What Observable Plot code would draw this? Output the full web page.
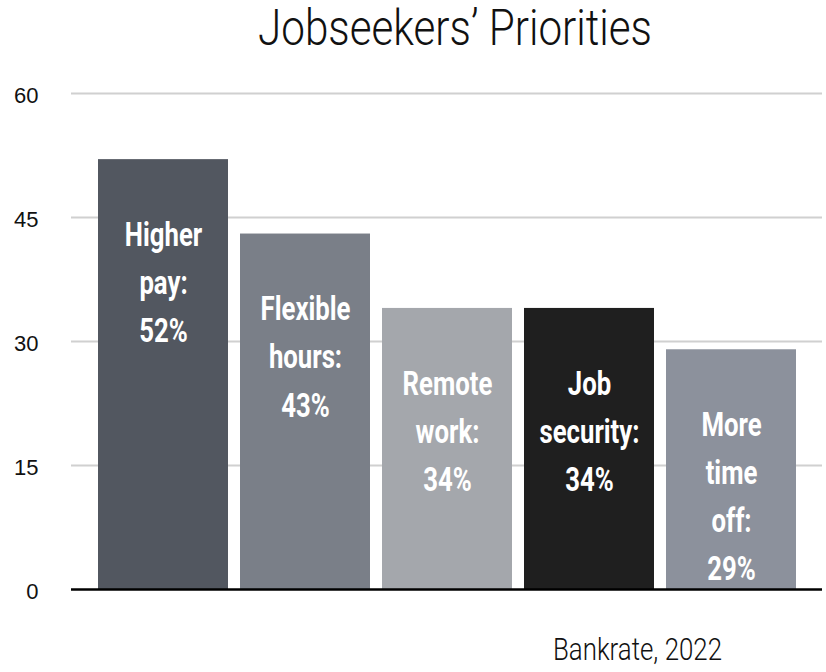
<!DOCTYPE html>
<html>
<head>
<meta charset="utf-8">
<script src="https://cdn.jsdelivr.net/npm/d3@7"></script>
<script src="https://cdn.jsdelivr.net/npm/@observablehq/plot@0.6"></script>
<style>
  html, body { margin: 0; padding: 0; background: #fff; }
  #wrap { position: relative; width: 826px; height: 672px; overflow: hidden; }
  .cond { position: absolute; white-space: nowrap; font-family: Roboto, "Liberation Sans", sans-serif;
    color: #111; transform-origin: 0 0; }
  #title { font-size: 50px; line-height: 50px; font-weight: 300; }
  #caption { font-size: 31px; line-height: 31px; font-weight: 300; }
  #chart { position: absolute; left: 0; top: 0; }
</style>
</head>
<body>
<div id="wrap">
  <div id="chart"></div>
  <div id="title" class="cond">Jobseekers’ Priorities</div>
  <div id="caption" class="cond">Bankrate, 2022</div>
</div>
<script>
const categories = ["Higher pay", "Flexible hours", "Remote work", "Job security", "More time off"];
const values = [52, 43, 34, 34, 29];
const labels = ["Higher\npay:\n52%", "Flexible\nhours:\n43%", "Remote\nwork:\n34%", "Job\nsecurity:\n34%", "More\ntime\noff:\n29%"];
const colors = ["#525760", "#7a7f88", "#a4a7ac", "#1f1f1f", "#8c919c"];
const yTicks = [0, 15, 30, 45, 60];

const data = categories.map((c, i) => ({category: c, value: values[i], label: labels[i], color: colors[i]}));

const chart = Plot.plot({
  width: 826,
  height: 672,
  marginTop: 93,
  marginBottom: 83,
  marginLeft: 71,
  marginRight: 4,
  style: {background: "transparent"},
  x: {domain: categories, range: [97, 796], paddingInner: 0.086, paddingOuter: 0, axis: null},
  y: {domain: [0, 60], ticks: yTicks},
  marks: [
    Plot.ruleY(yTicks.filter(d => d > 0), {stroke: "#d0d0d0", strokeWidth: 2}),
    Plot.barY(data, {x: "category", y: "value", fill: "color"}),
    Plot.ruleY([0], {stroke: "#000", strokeWidth: 2.5}),
    Plot.axisY({ticks: yTicks, tickSize: 0, tickPadding: 33, fontSize: 22, dy: 2,
      fontFamily: "'Liberation Sans', Arial, sans-serif", fill: "#111", label: null}),
    Plot.text(data, {x: "category", y: "value", text: "label", fill: "#fff", className: "barlabel",
      fontSize: 33, fontWeight: "bold", lineAnchor: "top", lineHeight: 1.46, dy: 52,
      fontFamily: "Roboto, 'DejaVu Sans', sans-serif"})
  ]
});
document.getElementById("chart").appendChild(chart);

// condense bar labels horizontally (no condensed face installed)
chart.querySelectorAll(".barlabel text").forEach(t => {
  const tr = t.getAttribute("transform") || "";
  t.setAttribute("transform", tr + " scale(0.78,1)");
});

// fit title and caption to the reference's condensed width
function fit(id, left, width, top) {
  const el = document.getElementById(id);
  const w = el.getBoundingClientRect().width;
  const s = width / w;
  el.style.left = left + "px";
  el.style.top = top + "px";
  el.style.transform = `scale(${s},1)`;
}
fit("title", 258, 394, 3);
fit("caption", 553, 169, 634);
</script>
</body>
</html>
